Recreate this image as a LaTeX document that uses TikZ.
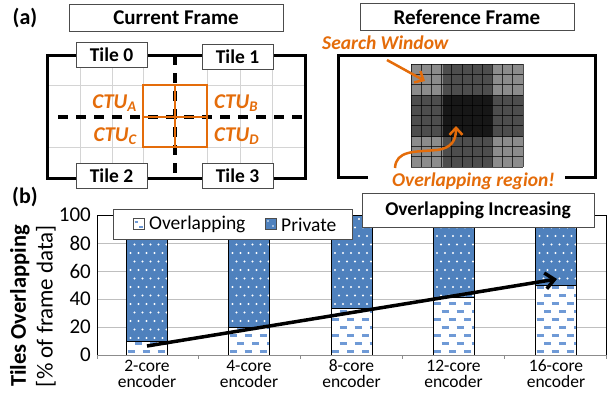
\documentclass[tikz,border=0pt]{standalone}
\usepackage{fontspec}
\setmainfont{Carlito}
\usetikzlibrary{arrows.meta}
\definecolor{ora}{HTML}{E46C0A}
\definecolor{barblue}{HTML}{4F81BD}
\definecolor{dashblue}{HTML}{6F9AD6}
\definecolor{lightgrid}{HTML}{D4D4D4}
\definecolor{chartgrid}{HTML}{BFBFBF}
\newcommand\chartbar[2]{%
 \pgfmathsetmacro\xl{#1-20.5}%
 \pgfmathsetmacro\xr{#1+20.5}%
 \pgfmathsetmacro\ym{355-1.4*#2}%
 \fill[white] (\xl,\ym) rectangle (\xr,355);
 \begin{scope}
  \clip (\xl,\ym) rectangle (\xr,355);
  \foreach \ri in {0,...,9}{\foreach \ci in {0,...,3}{\draw[ovdash] ({\xl+1+\ci*15+mod(\ri,2)*7.5},{351.5-\ri*8}) -- ++(7,0);}}
 \end{scope}
 \fill[barblue] (\xl,215) rectangle (\xr,\ym);
 \begin{scope}
  \clip (\xl,215) rectangle (\xr,\ym);
  \foreach \ri in {0,...,17}{\foreach \ci in {0,...,5}{\fill[white] ({\xl+4+\ci*8+mod(\ri,2)*4},{219+\ri*8.5}) circle (1.1);}}
 \end{scope}
 \draw[black, line width=0.8] (\xl,215) rectangle (\xr,355) (\xl,\ym) -- (\xr,\ym);
}
\begin{document}
\begin{tikzpicture}[x=1pt,y=-1pt,
  titlebox/.style={draw=black!70, line width=0.8pt, fill=white, minimum width=214pt, minimum height=27pt, inner sep=0pt, font=\fontsize{21}{24}\selectfont\bfseries},
  tilebox/.style={draw=black!70, line width=0.8pt, fill=white, minimum width=71pt, minimum height=25pt, inner sep=0pt, font=\fontsize{19.5}{22}\selectfont\bfseries},
  ctu/.style={text=ora, font=\fontsize{21}{24}\selectfont\bfseries\itshape, inner sep=0pt},
  oralbl/.style={text=ora, font=\fontsize{19.5}{22}\selectfont\bfseries\itshape, inner sep=0pt},
  panellbl/.style={font=\fontsize{22}{24}\selectfont\bfseries, inner sep=0pt},
  frameline/.style={line width=3pt, black},
  tiledash/.style={line width=3.2pt, dash pattern=on 10pt off 8pt},
  ytick/.style={anchor=east, inner sep=0pt, font=\fontsize{21}{24}\selectfont},
  xlab/.style={align=center, inner sep=0pt, font=\fontsize{17.5}{16}\selectfont},
  ovdash/.style={dashblue, line width=2.2pt},
  oarrow/.style={ora, line width=2.5pt, -{Straight Barb[length=7pt,width=13pt]}},
  bigarrow/.style={black, line width=3.5pt, -{Straight Barb[length=9pt,width=16pt]}},
  swin/.style={fill=black, fill opacity=0.45},
  legbox/.style={draw=black!70, line width=0.8pt, fill=white},
]
\useasboundingbox (0,0) rectangle (616,392);
% ---------------- panel (a) ----------------
\node[panellbl] (pa) at (25,18) {(a)};
\node[titlebox] (cf) at (176,17.5) {Current Frame};
\node[titlebox] (rf) at (467,17) {Reference Frame};
% light grid
\foreach \gx in {80,112,143,207,240,272} \draw[lightgrid, line width=0.8pt] (\gx,55) -- (\gx,178);
\foreach \gy in {85,147} \draw[lightgrid, line width=0.8pt] (47,\gy) -- (305,\gy);
% frame
\draw[frameline] (47,55) rectangle (305,178);
% dashed tile borders
\draw[tiledash] (58,117) -- (305,117);
\draw[tiledash] (175,55) -- (175,178);
% CTU squares
\draw[ora, line width=2.8pt] (143,85) rectangle (207,147) (175,85) -- (175,147) (143,117) -- (207,117);
\node[ctu, anchor=east] (ctua) at (137,103) {CTU\textsubscript{A}};
\node[ctu, anchor=west] (ctub) at (214,103) {CTU\textsubscript{B}};
\node[ctu, anchor=east] (ctuc) at (137,136) {CTU\textsubscript{C}};
\node[ctu, anchor=west] (ctud) at (214,136) {CTU\textsubscript{D}};
% tiles
\node[tilebox] (t0) at (111.5,54.5) {Tile 0};
\node[tilebox] (t1) at (237.5,56.5) {Tile 1};
\node[tilebox] (t2) at (111.5,175.5) {Tile 2};
\node[tilebox] (t3) at (237.5,175.5) {Tile 3};
% reference frame
\draw[frameline] (368,177) -- (338,177) -- (338,55) -- (595,55) -- (595,177) -- (565,177);
\fill[swin] (411,64) rectangle (492,137);
\fill[swin] (443,64) rectangle (523,137);
\fill[swin] (411,95) rectangle (492,167);
\fill[swin] (443,95) rectangle (523,167);
\foreach \k in {0,...,11} \draw[black, line width=0.7pt, opacity=0.7] ({411+\k*112/11},64) -- ({411+\k*112/11},167);
\foreach \k in {0,...,10} \draw[black, line width=0.7pt, opacity=0.7] (411,{64+\k*10.3}) -- (523,{64+\k*10.3});
\node[oralbl, anchor=west] (swl) at (322,43) {Search Window};
\node[oralbl, anchor=west] (ovl) at (392,181) {Overlapping region!};
\coordinate (swS) at (387,60);
\coordinate (swE) at (425,81);
\draw[oarrow] (swS) -- (swE);
\coordinate (ovS) at (395,168);
\coordinate (ovE) at (456,126);
\draw[oarrow] (ovS) .. controls (396,150) and (415,152) .. (437,150) .. controls (452,148) and (456,140) .. (ovE);
% ---------------- panel (b) ----------------
\node[panellbl] (pb) at (25,197) {(b)};
\foreach \gy in {243,271,299,327} \draw[chartgrid, line width=0.8pt] (97,\gy) -- (606,\gy);
\chartbar{147}{10}
\chartbar{249}{20}
\chartbar{351.5}{33.5}
\chartbar{453.5}{41.5}
\chartbar{556}{49.5}
\draw[black, line width=0.9pt] (97,355) -- (97,215) -- (606,215) -- (606,355);
\draw[black!45, line width=0.9pt] (97,355) -- (606,355);
\foreach \k in {0,...,5} \draw[black!45, line width=0.9pt] ({97+\k*101.8},355) -- ({97+\k*101.8},359);
% y ticks
\node[ytick] (y100) at (91,215) {100};
\node[ytick] (y80) at (91,243) {80};
\node[ytick] (y60) at (91,271) {60};
\node[ytick] (y40) at (91,299) {40};
\node[ytick] (y20) at (91,327) {20};
\node[ytick] (y0) at (91,355) {0};
\node[rotate=90, inner sep=0pt, font=\fontsize{22.5}{24}\selectfont\bfseries] (ytitle) at (20,306) {Tiles Overlapping};
\node[rotate=90, inner sep=0pt, font=\fontsize{23}{24}\selectfont] (ysub) at (46,306) {[\% of frame data]};
% x labels
\node[xlab] (x2) at (147,374) {2-core\\encoder};
\node[xlab] (x4) at (249,374) {4-core\\encoder};
\node[xlab] (x8) at (351.5,374) {8-core\\encoder};
\node[xlab] (x12) at (453.5,374) {12-core\\encoder};
\node[xlab] (x16) at (556,374) {16-core\\encoder};
% legend
\draw[legbox] (113,209) rectangle (352,239);
\draw[black!70, line width=0.7pt, fill=white] (133,218) rectangle (144,229);
\draw[ovdash, line width=1.5pt] (134.5,222) -- (138,222);
\draw[ovdash, line width=1.5pt] (139,227) -- (143,227);
\node[anchor=west, inner sep=0pt, font=\fontsize{19.5}{22}\selectfont] (lov) at (149,224.5) {Overlapping};
\draw[black!70, line width=0.7pt, fill=barblue] (265,218) rectangle (276,229);
\fill[white] (268,221) circle (0.8) (273,226) circle (0.8);
\node[anchor=west, inner sep=0pt, font=\fontsize{19.5}{22}\selectfont] (lpr) at (281,224.5) {Private};
% overlapping increasing
\node[draw=black!70, line width=0.8pt, fill=white, minimum width=232pt, minimum height=34pt, inner sep=0pt, font=\fontsize{19.5}{22}\selectfont\bfseries] (oi) at (478,210) {Overlapping Increasing};
% trend arrow
\coordinate (arrS) at (147,346);
\coordinate (arrE) at (557,279);
\draw[bigarrow] (arrS) -- (arrE);
\end{tikzpicture}
\end{document}
